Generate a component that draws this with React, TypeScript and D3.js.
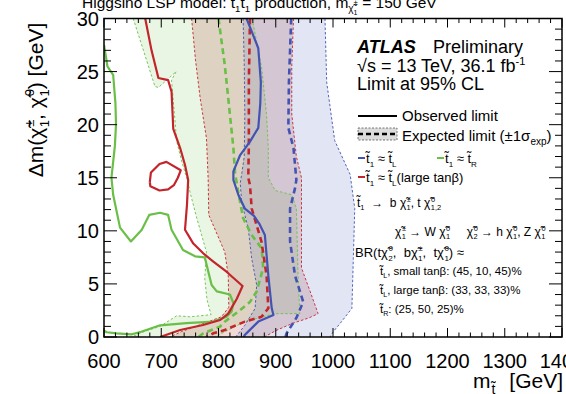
import React from 'react';
import * as d3 from 'd3';

// [m(stop) GeV, delta m GeV]
const greenObs = [[600,27.5],[606,25.5],[616,24.7],[620,22],[621,20],[619,18],[616,16.5],[613,15],[616,13.4],[628,10.3],[647,9.0],[666,10.1],[679,11.5],[698,11.7],[712,11.5],[718,10.1],[738,8.2],[759,7.6],[776,7.5],[788,4.9],[797,4.3],[820,4.0],[826,3.2],[823,2.4],[814,1.9],[791,1.45],[744,1.3],[698,1.1],[665,0.5],[648,0.25],[622,0.35],[605,0.45],[600,0.6]];
const greenExp = [[800,30],[811,25.6],[817,22.5],[826,17.8],[829,15.4],[835,13.5],[843,11.2],[858,9.6],[875.5,8.35],[878,6.5],[866.7,4.3],[855,3.3],[834.6,2.4],[811,1.45],[802.6,0.97],[773.5,0.35],[765,0]];
const greenBandIn = [[651,30],[689,23.6],[695,23.5],[726,25.0],[718,24.2],[727,18.4],[736,16.5],[745.5,14.8],[750,13.7],[762,11.2],[779,8.0],[776,5.5],[780,3.5],[787,2.1],[750,1.9],[727,2.0],[698,1.0],[670,0.5],[648,0]];
const greenBandOut = [[858,30],[861,29.4],[875.5,25.3],[884,20.9],[887,17.8],[887,15],[899,13.8],[928,13.4],[936,12.1],[939,5.8],[942,2.2],[899,2.2],[846,1.45],[811,0.5],[795,0]];

const redObs = [[672,30],[683,27],[695,24.4],[712,24.2],[718,23.1],[721,19.6],[733,17.8],[741.5,16.2],[747,14.8],[745,12.5],[741.5,10.1],[756,8.8],[775,7.8],[791,7.1],[814,6.15],[842,4.8],[832,3.6],[817,2.2],[803,1.6],[773,1.13],[733,0.66],[698,0]];
const redIsland = [[680,14.6],[682,15.5],[697,16.3],[709,16.5],[734,15.7],[729,15.0],[722,14.3],[712,13.9],[697,13.8],[681,14.2],[680,14.6]];
const redExp = [[855,30],[853,24],[853,18],[852,15],[855,14.3],[858,12.1],[875,9.0],[884,5.8],[887,2.7],[875,1.9],[846,1.45],[811,0.66],[791,0.35],[779,0]];
const redBandIn = [[753,30],[760,26],[768,22.5],[779,18.7],[782,14.8],[783,11.5],[795,10],[811,8.0],[817,5.8],[818,2.8],[805,1.9],[770,1.2],[735,0.5],[715,0]];
const redBandOut = [[931,30],[928,25.5],[928,21],[936,17],[945,15],[945,13.4],[945,6.5],[960,4.3],[974,2.2],[958,1.8],[930,1.3],[900,0.6],[880,0]];

const blueObs = [[849,30],[860,28.5],[869.5,27.2],[874,24],[873,22],[869.5,19.7],[855,18.4],[837.5,17.1],[826,15.6],[826,14.8],[834.6,13.4],[846,12.1],[862,11.4],[872,10.6],[881,9.6],[887,5.8],[893,2.7],[896,2.07],[869.5,1.45],[846,0.2],[844,0]];
const blueExp = [[927,30],[923,24],[922,19.7],[931,17.8],[936,14.8],[933.6,14.0],[925,12.1],[925,9.0],[933.6,5.8],[948,3.3],[936,1.8],[919,0.35],[917,0]];
const blueBandIn = [[843,30],[845,25.6],[846,20.9],[845,17],[841,15.5],[838,14.5],[840.5,12.7],[852,10.2],[858,7.4],[866.7,4.9],[864,2.7],[846,1.1],[830,0]];
const blueBandOut = [[986,30],[989,24],[1003,18.5],[1030,15.3],[1038,12.1],[1035.5,7.4],[1033,2.7],[1015,1.45],[1000.5,0.5],[995,0]];

const xTicks = [600, 700, 800, 900, 1000, 1100, 1200, 1300, 1400];
const yTicks = [0, 5, 10, 15, 20, 25, 30];

const BLUE = '#4253b3';
const GREEN = '#6abf48';
const RED = '#c3252b';
const FONT = '"Liberation Sans", Arial, Helvetica, sans-serif';
const T = 't\u0303';
const CHI = '\u03C7\u0303';
const SP = '\u00A0';

const x = d3.scaleLinear().domain([600, 1400]).range([104, 562]);
const y = d3.scaleLinear().domain([0, 30]).range([337, 18.5]);
const line = d3.line<number[]>().x(d => x(d[0])).y(d => y(d[1]));

function band(inner: number[][], outer: number[][]) {
  return line([...inner, ...outer.slice().reverse()]) + 'Z';
}

// stacked super/subscript after a symbol
function SS({ sub, sup, fs }: { sub: string; sup: string; fs: number }) {
  const s = fs * 0.62;
  return (
    <>
      <tspan fontSize={s} dx={fs * 0.05} baselineShift={fs * 0.45}>{sup}</tspan>
      <tspan fontSize={s} dx={-s * 0.58 * sup.length} baselineShift={-fs * 0.28}>{sub}</tspan>
    </>
  );
}
function Sb({ t, fs }: { t: string; fs: number }) {
  return <tspan fontSize={fs * 0.62} baselineShift={-fs * 0.28}>{t}</tspan>;
}

export default function App() {
  const minorX = d3.range(600, 1401, 20);
  const minorY = d3.range(0, 31, 1);
  const L = 104, R = 562, TOP = 18.5, B = 337;
  const fs = 12;
  return (
    <svg width={566} height={394} style={{ position: 'absolute', left: 0, top: 0 }} fontFamily={FONT}>
      <defs>
        <clipPath id="plot"><rect x={L} y={TOP} width={R - L} height={B - TOP} /></clipPath>
      </defs>
      <rect width={566} height={394} fill="white" />
      {/* title, cut by the top edge */}
      <text x={82} y={8} fontSize={15.5}>
        Higgsino LSP model: {T}<Sb t="1" fs={15.5} />{T}<Sb t="1" fs={15.5} /> production, m<tspan fontSize={10} baselineShift={-4}>{CHI}</tspan><tspan fontSize={7} baselineShift={-7}>1</tspan><tspan fontSize={8} dx={-4} baselineShift={3}>±</tspan> = 150 GeV
      </text>

      <g clipPath="url(#plot)">
        <path d={band(greenBandIn, greenBandOut)} fill="#8fd07a" fillOpacity={0.2} />
        <path d={band(redBandIn, redBandOut)} fill="#b4463a" fillOpacity={0.2} />
        <path d={band(blueBandIn, blueBandOut)} fill="#5e6fbc" fillOpacity={0.18} />

        {[[greenBandIn, GREEN], [greenBandOut, GREEN], [redBandIn, RED], [redBandOut, RED], [blueBandIn, BLUE], [blueBandOut, BLUE]].map(([pts, c], i) => (
          <path key={'b' + i} d={line(pts as number[][])!} fill="none" stroke={c as string} strokeWidth={0.9} strokeDasharray="2.5 2" />
        ))}
        {[[greenExp, GREEN], [redExp, RED], [blueExp, BLUE]].map(([pts, c], i) => (
          <path key={'e' + i} d={line(pts as number[][])!} fill="none" stroke={c as string} strokeWidth={2.6} strokeDasharray="6 4" />
        ))}
        {[[greenObs, GREEN], [redObs, RED], [redIsland, RED], [blueObs, BLUE]].map(([pts, c], i) => (
          <path key={'o' + i} d={line(pts as number[][])!} fill="none" stroke={c as string} strokeWidth={2.2} strokeLinejoin="round" />
        ))}
      </g>

      {/* ticks */}
      <g stroke="black" strokeWidth={1}>
        {minorX.map(v => {
          const len = v % 100 === 0 ? 9 : 4.5;
          return (
            <g key={'tx' + v}>
              <line x1={x(v)} x2={x(v)} y1={B} y2={B - len} />
              <line x1={x(v)} x2={x(v)} y1={TOP} y2={TOP + len} />
            </g>
          );
        })}
        {minorY.map(v => {
          const len = v % 5 === 0 ? 13 : 7;
          return (
            <g key={'ty' + v}>
              <line x1={L} x2={L + len} y1={y(v)} y2={y(v)} />
              <line x1={R} x2={R - len} y1={y(v)} y2={y(v)} />
            </g>
          );
        })}
      </g>
      <rect x={L} y={TOP} width={R - L} height={B - TOP} fill="none" stroke="black" strokeWidth={1.5} />

      {xTicks.map(v => (
        <text key={'lx' + v} x={x(v)} y={368} fontSize={20} textAnchor="middle">{v}</text>
      ))}
      {yTicks.map(v => (
        <text key={'ly' + v} x={99} y={y(v) + 7} fontSize={20} textAnchor="end">{v}</text>
      ))}

      <text x={563} y={388} fontSize={21} textAnchor="end">
        m<tspan fontSize={14} dx={1} baselineShift={-6}>{T}</tspan><tspan dx={8}> [GeV]</tspan>
      </text>
      <text transform="translate(43,100) rotate(-90)" fontSize={21} textAnchor="middle">
        Δm({CHI}<SS sub="1" sup="±" fs={21} />, {CHI}<SS sub="1" sup="0" fs={21} />) [GeV]
      </text>

      {/* legend */}
      <text x={357} y={53} fontSize={18} fontWeight="bold" fontStyle="italic">ATLAS</text>
      <text x={433} y={53} fontSize={18}>Preliminary</text>
      <text x={357} y={72} fontSize={18}>√s = 13 TeV, 36.1 fb<tspan fontSize={11} baselineShift={7}>-1</tspan></text>
      <text x={357} y={90} fontSize={18}>Limit at 95% CL</text>

      <line x1={358} x2={397} y1={116} y2={116} stroke="black" strokeWidth={2.2} />
      <text x={402} y={121} fontSize={15}>Observed limit</text>
      <rect x={358} y={128} width={39} height={12} fill="#dcdcdc" stroke="#555" strokeWidth={0.8} strokeDasharray="2 1.5" />
      <line x1={358} x2={397} y1={134} y2={134} stroke="black" strokeWidth={2.5} strokeDasharray="5 3" />
      <text x={402} y={141} fontSize={15}>Expected limit (±1σ<tspan fontSize={10} baselineShift={-4}>exp</tspan>)</text>

      <line x1={358} x2={365} y1={158} y2={158} stroke={BLUE} strokeWidth={2} />
      <text x={366} y={163} fontSize={13}>{T}<Sb t="1" fs={13} /> ≈ {T}<Sb t="L" fs={13} /></text>
      <line x1={437} x2={444} y1={158} y2={158} stroke={GREEN} strokeWidth={2} />
      <text x={445} y={163} fontSize={13}>{T}<Sb t="1" fs={13} /> ≈ {T}<Sb t="R" fs={13} /></text>
      <line x1={358} x2={365} y1={177} y2={177} stroke={RED} strokeWidth={2} />
      <text x={366} y={182} fontSize={13}>{T}<Sb t="1" fs={13} /> ≈ {T}<Sb t="L" fs={13} />(large tanβ)</text>

      <g fontSize={fs}>
        <text x={357} y={207}>{T}<Sb t="1" fs={fs} />{SP}{SP}→{SP}{SP}b {CHI}<SS sub="1" sup="±" fs={fs} />, t {CHI}<SS sub="1,2" sup="0" fs={fs} /></text>
        <text x={395} y={236}>{CHI}<SS sub="1" sup="±" fs={fs} /> → W {CHI}<SS sub="1" sup="0" fs={fs} />{SP}{SP}{SP}{SP}{SP}{CHI}<SS sub="2" sup="0" fs={fs} /> → h {CHI}<SS sub="1" sup="0" fs={fs} />, Z {CHI}<SS sub="1" sup="0" fs={fs} /></text>
        <text x={355} y={257} fontSize={13}>BR(t{CHI}<SS sub="2" sup="0" fs={13} />,{SP}{SP}b{CHI}<SS sub="1" sup="±" fs={13} />,{SP}{SP}t{CHI}<SS sub="1" sup="0" fs={13} />) ≈</text>
        <text x={380} y={275} fontSize={11.5}>{T}<Sb t="L" fs={11.5} />, small tanβ: (45, 10, 45)%</text>
        <text x={380} y={294} fontSize={11.5}>{T}<Sb t="L" fs={11.5} />, large tanβ: (33, 33, 33)%</text>
        <text x={380} y={313} fontSize={11.5}>{T}<Sb t="R" fs={11.5} />: (25, 50, 25)%</text>
      </g>
    </svg>
  );
}
